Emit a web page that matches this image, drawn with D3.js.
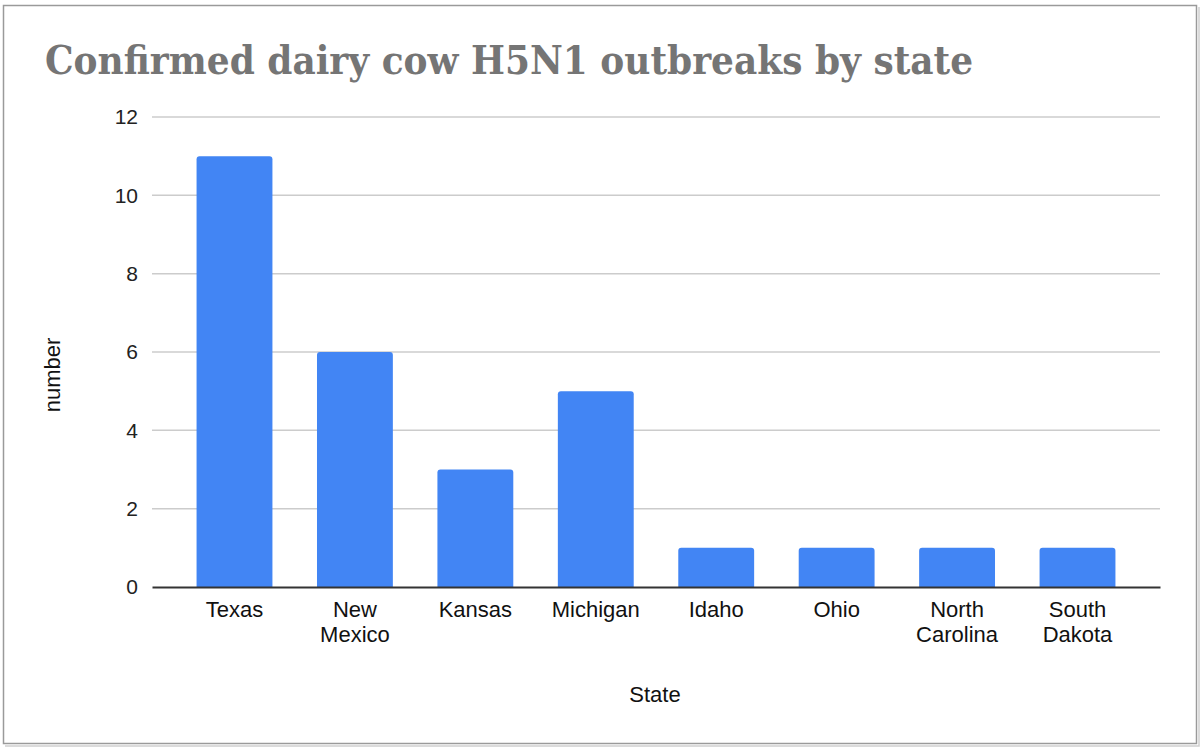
<!DOCTYPE html>
<html>
<head>
<meta charset="utf-8">
<script src="https://cdn.jsdelivr.net/npm/d3@7"></script>
<style>
  body { margin: 0; background: #fff; }
  svg { display: block; }
</style>
</head>
<body>
<svg id="drawing_region"></svg>
<script>
// data
const states = ["Texas", "New Mexico", "Kansas", "Michigan", "Idaho", "Ohio", "North Carolina", "South Dakota"];
const outbreaks = [11, 6, 3, 5, 1, 1, 1, 1];
const yTicks = [0, 2, 4, 6, 8, 10, 12];

const width = 1200, height = 749;
const margin = {top: 117, right: 40, bottom: 162, left: 152};

const svg = d3.select('#drawing_region')
    .attr('width', width)
    .attr('height', height);

// chart frame
svg.append('rect')
    .attr('x', 3.5).attr('y', 5.5)
    .attr('width', 1193).attr('height', 738)
    .attr('fill', '#fff')
    .attr('stroke', '#9a9a9a')
    .attr('stroke-width', 1.5);
svg.append('path')
    .attr('d', 'M 5 746 H 1199 V 7')
    .attr('fill', 'none')
    .attr('stroke', '#d0d0d0')
    .attr('stroke-width', 1.5);

const inner_width = width - margin.left - margin.right;
const inner_height = height - margin.top - margin.bottom;

const chart = svg.append('g')
    .attr('transform', `translate(${margin.left}, ${margin.top})`);

const xscale = d3.scaleBand()
    .domain(states)
    .range([0, inner_width])
    .paddingInner(0.37)
    .paddingOuter(0.37);

const yscale = d3.scaleLinear()
    .domain([0, 12])
    .range([inner_height, 0]);

// gridlines
chart.append('g')
    .selectAll('line')
    .data(yTicks.filter(d => d > 0))
    .join('line')
    .attr('x1', 0).attr('x2', inner_width)
    .attr('y1', d => yscale(d)).attr('y2', d => yscale(d))
    .attr('stroke', '#cccccc')
    .attr('stroke-width', 1.5);

// y axis labels
const yaxis = d3.axisLeft(yscale)
    .tickValues(yTicks)
    .tickSize(0)
    .tickPadding(14);
const yaxis_group = chart.append('g').call(yaxis);
yaxis_group.select('.domain').remove();
yaxis_group.selectAll('text')
    .attr('font-family', 'Arial, "Liberation Sans", sans-serif')
    .attr('font-size', '21px')
    .attr('fill', '#222');

// bars with slightly rounded tops
const r = 3;
chart.append('g')
    .selectAll('path')
    .data(states)
    .join('path')
    .attr('fill', '#4285f4')
    .attr('d', (d, i) => {
        const x0 = xscale(d), w = xscale.bandwidth();
        const y0 = yscale(outbreaks[i]), y1 = yscale(0);
        return `M${x0},${y1} V${y0 + r} Q${x0},${y0} ${x0 + r},${y0} H${x0 + w - r} Q${x0 + w},${y0} ${x0 + w},${y0 + r} V${y1} Z`;
    });

// x axis
const xaxis = d3.axisBottom(xscale).tickSize(0).tickFormat('');
const xaxis_group = chart.append('g')
    .attr('transform', `translate(0, ${inner_height})`)
    .call(xaxis);
xaxis_group.select('.domain')
    .attr('stroke', '#333')
    .attr('stroke-width', 2);

// category labels, wrapped on the space
const labels = chart.append('g')
    .selectAll('text')
    .data(states)
    .join('text')
    .attr('text-anchor', 'middle')
    .attr('font-family', 'Arial, "Liberation Sans", sans-serif')
    .attr('font-size', '22px')
    .attr('fill', '#111')
    .attr('x', d => xscale(d) + xscale.bandwidth() / 2)
    .attr('y', inner_height + 30);
labels.each(function (d) {
    const words = d.split(' ');
    const cx = xscale(d) + xscale.bandwidth() / 2;
    d3.select(this).selectAll('tspan')
        .data(words)
        .join('tspan')
        .attr('x', cx)
        .attr('dy', (w, j) => j === 0 ? 0 : 25)
        .text(w => w);
});

// axis titles
svg.append('text')
    .attr('x', 655)
    .attr('y', 702)
    .attr('text-anchor', 'middle')
    .attr('font-family', 'Arial, "Liberation Sans", sans-serif')
    .attr('font-size', '22px')
    .attr('fill', '#111')
    .text('State');

svg.append('text')
    .attr('transform', 'translate(60, 375) rotate(-90)')
    .attr('text-anchor', 'middle')
    .attr('font-family', 'Arial, "Liberation Sans", sans-serif')
    .attr('font-size', '22px')
    .attr('fill', '#111')
    .text('number');

// title
svg.append('text')
    .attr('x', 45)
    .attr('y', 74)
    .attr('font-family', '"DejaVu Serif", Georgia, serif')
    .attr('font-weight', 'bold')
    .attr('font-size', '40px')
    .attr('fill', '#757575')
    .attr('textLength', 928)
    .attr('lengthAdjust', 'spacingAndGlyphs')
    .text('Confirmed dairy cow H5N1 outbreaks by state');
</script>
</body>
</html>
